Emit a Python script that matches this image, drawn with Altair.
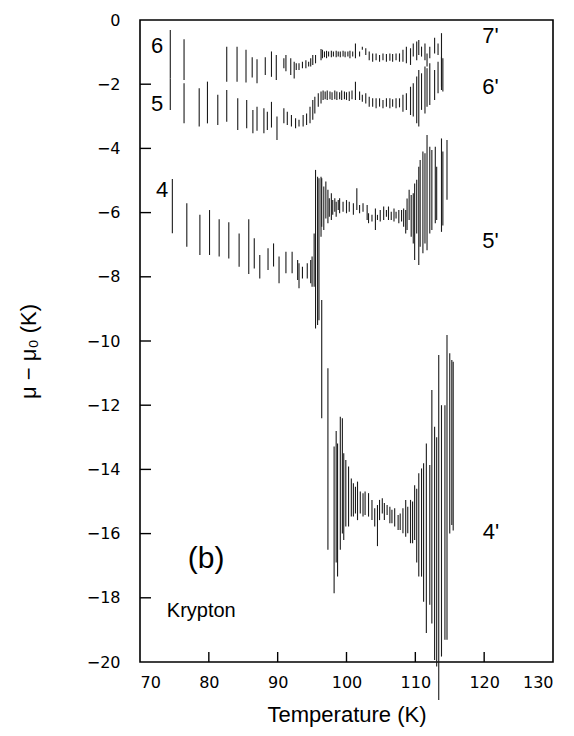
import altair as alt
import pandas as pd

# Temperature (K), lower and upper limit of mu - mu0 (K) for each isotherm segment
s6_T = [74.4, 76.4, 82.6, 84.1, 85.4, 86.3, 87.0, 88.2, 89.1, 89.8, 90.9, 91.2, 91.9, 92.4, 92.7,
        93.1, 93.6, 94.1, 94.5, 94.8, 95.1, 95.5, 96.3, 96.5, 96.8, 97.1, 97.4, 97.8, 98.1, 98.5,
        98.8, 99.1, 99.5, 99.8, 100.2, 100.5, 100.9, 101.3, 101.9, 102.3, 102.8, 103.3, 103.8,
        104.3, 104.8, 105.3, 105.8, 106.3, 106.7, 107.2, 107.7, 108.2, 108.7, 109.3, 109.7,
        110.2, 110.5, 110.9, 111.4, 111.7, 112.1, 112.8, 113.3, 113.8]
s6_lo = [-1.82, -1.87, -1.92, -1.92, -1.95, -1.79, -1.97, -1.71, -1.77, -1.87, -1.50, -1.60, -1.71,
         -1.82, -1.56, -1.56, -1.50, -1.50, -1.45, -1.45, -1.40, -1.35, -1.25, -1.19, -1.16, -1.19,
         -1.14, -1.16, -1.14, -1.16, -1.14, -1.16, -1.14, -1.16, -1.14, -1.19, -1.14, -1.19, -1.14,
         -0.93, -1.09, -1.25, -1.30, -1.25, -1.30, -1.25, -1.30, -1.27, -1.30, -1.25, -1.30, -1.30,
         -1.35, -1.40, -1.14, -1.25, -1.09, -1.14, -1.25, -1.45, -1.19, -1.04, -1.09, -2.08]
s6_hi = [-0.31, -0.60, -0.83, -0.83, -0.93, -1.16, -1.22, -1.16, -0.98, -1.09, -1.19, -1.09, -1.19,
         -1.30, -1.35, -1.35, -1.30, -1.25, -1.30, -1.19, -1.09, -1.09, -0.90, -0.93, -0.98, -0.96,
         -0.98, -0.96, -0.98, -0.96, -0.98, -0.98, -0.96, -0.98, -0.98, -0.96, -0.98, -0.73, -0.98,
         -0.83, -0.88, -0.98, -1.04, -1.04, -1.09, -1.04, -1.06, -1.04, -1.06, -1.04, -1.04, -0.93,
         -0.83, -0.88, -0.73, -0.67, -0.62, -0.83, -0.73, -1.04, -0.83, -0.55, -0.73, -0.41]

s5_T = [74.4, 76.4, 78.6, 79.8, 81.3, 82.6, 84.2, 85.5, 86.4, 87.0, 88.0, 88.5, 89.1, 89.9, 90.9,
        91.4, 92.0, 92.6, 93.1, 93.7, 94.2, 94.7, 95.1, 95.4, 95.9, 96.3, 96.6, 96.9, 97.2, 97.6,
        97.9, 98.3, 98.6, 99.0, 99.3, 99.7, 100.0, 100.4, 100.8, 101.3, 101.9, 102.3, 102.8, 103.3,
        103.8, 104.3, 104.8, 105.3, 105.8, 106.3, 106.7, 107.2, 107.7, 108.2, 108.7, 109.3, 109.7,
        110.2, 110.5, 110.9, 111.4, 111.7, 112.1, 112.8, 113.3, 113.8, 114.0]
s5_lo = [-2.80, -3.22, -3.32, -3.22, -3.27, -3.17, -3.43, -3.37, -3.53, -3.45, -3.53, -3.43, -3.35,
         -3.74, -3.22, -3.27, -3.32, -3.37, -3.32, -3.32, -3.27, -3.22, -3.11, -2.91, -2.70, -2.60,
         -2.49, -2.47, -2.49, -2.47, -2.49, -2.47, -2.49, -2.47, -2.49, -2.47, -2.49, -2.52, -2.47,
         -2.49, -2.49, -2.55, -2.60, -2.70, -2.70, -2.75, -2.70, -2.75, -2.70, -2.75, -2.70, -2.75,
         -2.72, -2.86, -2.80, -2.96, -3.01, -3.22, -3.32, -2.80, -2.91, -2.70, -2.65, -2.49, -2.28,
         -2.18, -2.23]
s5_hi = [-1.82, -1.97, -2.13, -1.92, -2.33, -2.18, -2.44, -2.49, -2.80, -2.70, -2.75, -2.86, -2.55,
         -3.01, -2.75, -2.86, -2.96, -3.06, -3.11, -2.96, -2.91, -2.70, -2.49, -2.39, -2.28, -2.23,
         -2.20, -2.23, -2.20, -2.23, -2.25, -2.20, -2.23, -2.25, -2.20, -2.23, -2.25, -2.23, -2.20,
         -1.92, -2.23, -2.33, -2.28, -2.39, -2.44, -2.44, -2.44, -2.49, -2.44, -2.44, -2.47, -2.44,
         -2.44, -2.33, -2.28, -2.08, -1.97, -1.76, -1.56, -1.66, -1.45, -1.50, -1.35, -1.56, -1.30,
         -1.14, -1.19]

s4_T = [74.7, 76.8, 78.7, 80.1, 81.5, 82.9, 84.4, 85.8, 86.6, 87.4, 88.6, 89.4, 90.2, 91.2, 92.1,
        92.9, 93.1, 93.6, 94.3, 94.8, 95.0, 95.3, 95.5, 95.8, 96.0, 96.3, 96.4, 96.7, 97.0, 97.3,
        97.5, 97.8, 98.0, 98.3, 98.5, 98.8, 99.0, 99.5, 100.0, 100.4, 101.0, 101.5, 101.9, 102.4,
        103.0, 103.2, 103.7, 104.2, 104.5, 104.9, 105.4, 105.8, 106.1, 106.5, 106.9, 107.2, 107.6,
        108.0, 108.3, 108.6, 108.8, 109.1, 109.4, 109.7, 109.9, 110.2, 110.5, 110.7, 111.1, 111.4,
        111.7, 112.1, 112.4, 112.9, 113.1, 113.8, 114.0, 114.6]
s4_lo = [-6.64, -7.06, -7.32, -7.32, -7.37, -7.43, -7.69, -7.91, -7.74, -8.05, -7.79, -7.68, -8.20,
         -7.89, -7.89, -8.10, -8.36, -8.05, -8.05, -8.20, -8.31, -8.31, -9.61, -9.50, -9.35, -6.75,
         -6.44, -6.54, -6.18, -6.33, -6.13, -6.23, -6.07, -5.97, -6.13, -5.92, -6.02, -5.97, -6.02,
         -5.97, -6.07, -5.92, -6.02, -5.97, -6.23, -6.33, -6.28, -6.54, -6.23, -6.28, -6.23, -6.13,
         -6.23, -6.23, -6.28, -6.18, -6.33, -6.28, -6.44, -6.65, -6.54, -6.23, -6.75, -6.96, -7.48,
         -6.65, -7.63, -7.06, -7.27, -6.96, -7.17, -6.65, -6.54, -6.33, -6.23, -6.60, -6.40, -5.60]
s4_hi = [-4.95, -5.71, -6.07, -5.92, -6.21, -6.30, -6.65, -6.21, -6.80, -7.32, -7.11, -6.96, -7.37,
         -7.22, -7.22, -7.48, -7.58, -7.69, -7.58, -7.48, -7.37, -6.65, -4.67, -4.88, -4.93, -4.88,
         -4.93, -5.19, -5.03, -5.29, -5.55, -5.40, -5.61, -5.55, -5.66, -5.61, -5.55, -5.66, -5.61,
         -5.66, -5.71, -5.24, -5.76, -5.71, -5.76, -6.02, -6.07, -5.87, -6.07, -5.92, -5.81, -5.92,
         -5.81, -5.97, -5.87, -5.97, -5.92, -5.92, -5.87, -5.92, -5.56, -5.29, -5.45, -5.40, -5.09,
         -4.98, -4.57, -4.36, -4.10, -4.15, -3.58, -3.95, -4.05, -3.95, -4.57, -3.69, -4.10, -3.74]

s4p_T = [96.4, 97.3, 98.2, 98.5, 98.7, 99.1, 99.4, 99.6, 99.9, 100.3, 100.7, 101.0, 101.3, 101.6,
         102.0, 102.4, 102.7, 103.2, 103.7, 104.1, 104.5, 104.8, 105.2, 105.5, 105.9, 106.3, 106.6,
         107.0, 107.5, 107.8, 108.2, 108.6, 108.9, 109.3, 109.6, 109.9, 110.2, 110.5, 110.9, 111.2,
         111.6, 112.1, 112.4, 112.8, 113.1, 113.4, 113.8, 114.3, 114.6, 115.0, 115.3, 115.5]
s4p_lo = [-12.41, -16.50, -17.86, -16.90, -17.34, -16.50, -16.00, -16.20, -15.78, -15.78, -15.47,
          -15.47, -15.37, -15.58, -15.37, -15.47, -15.42, -15.47, -15.58, -15.78, -16.39, -15.58,
          -15.37, -15.58, -15.42, -15.68, -15.68, -15.78, -15.89, -15.89, -15.99, -16.10, -15.99,
          -16.30, -16.30, -16.20, -16.90, -17.34, -17.34, -18.12, -19.10, -18.22, -18.80, -19.94,
          -20.14, -21.18, -19.83, -19.31, -19.31, -16.00, -15.73, -15.90]
s4p_hi = [-8.72, -10.85, -13.29, -12.80, -13.19, -12.36, -12.41, -13.50, -13.71, -13.91, -14.28,
          -14.43, -14.54, -14.38, -14.69, -14.74, -14.69, -14.74, -14.95, -15.21, -15.11, -14.95,
          -14.90, -15.05, -15.11, -15.16, -15.26, -15.21, -15.42, -15.37, -15.21, -14.95, -15.16,
          -14.95, -15.00, -14.49, -14.60, -14.12, -13.97, -13.81, -13.19, -13.86, -11.53, -12.67,
          -13.00, -10.44, -12.00, -12.00, -9.81, -10.38, -10.59, -10.65]

# Curve labels and panel annotations
label_text = ["6", "5", "4", "7'", "6'", "5'", "4'", "(b)", "Krypton"]
label_T = [72.5, 72.5, 73.2, 120.9, 120.9, 120.9, 121.0, 79.6, 78.9]
label_mu = [-0.80, -2.62, -5.30, -0.50, -2.08, -6.88, -15.95, -16.80, -18.40]
label_size = [22, 22, 22, 22, 22, 22, 22, 30, 20]

x_ticks = [70, 80, 90, 100, 110, 120, 130]
y_ticks = [0, -2, -4, -6, -8, -10, -12, -14, -16, -18, -20]
x_inner_ticks = [80, 90, 100, 110, 120]
y_inner_ticks = [-2, -4, -6, -8, -10, -12, -14, -16, -18]

frames = []
for name, T, lo, hi in [("6", s6_T, s6_lo, s6_hi), ("5", s5_T, s5_lo, s5_hi),
                        ("4", s4_T, s4_lo, s4_hi), ("4'", s4p_T, s4p_lo, s4p_hi)]:
    frames.append(pd.DataFrame({"curve": name, "T": T, "lo": lo, "hi": hi}))
bars = pd.concat(frames, ignore_index=True)

labels = pd.DataFrame({"text": label_text, "T": label_T, "mu": label_mu, "size": label_size})

W, H = 413, 642
xscale = alt.Scale(domain=[70, 130], nice=False, zero=False)
yscale = alt.Scale(domain=[-20, 0], nice=False, zero=False)
tick_font = "DejaVu Sans"
text_font = "Liberation Sans"

x_axis = alt.Axis(values=x_ticks, format="d", ticks=False, domain=False, grid=False,
                  labelFont=tick_font, labelFontSize=16, labelColor="black", labelPadding=12,
                  title="Temperature (K)", titleFont=text_font, titleFontSize=22,
                  titleFontWeight="normal", titleColor="black", titlePadding=14)
y_axis = alt.Axis(values=y_ticks, format="d", ticks=False, domain=False, grid=False,
                  labelFont=tick_font, labelFontSize=16, labelColor="black", labelPadding=20,
                  title="μ − μ₀ (K)", titleFont=text_font, titleFontSize=22,
                  titleFontWeight="normal", titleColor="black", titleX=-100, titleY=H / 2 + 10)

error_bars = alt.Chart(bars).mark_rule(color="#1b1b1b", strokeWidth=1.1).encode(
    x=alt.X("T:Q", scale=xscale, axis=x_axis),
    y=alt.Y("lo:Q", scale=yscale, axis=y_axis),
    y2="hi:Q",
)

ytick_marks = alt.Chart(pd.DataFrame({"v": y_inner_ticks})).mark_rule(
    color="black", strokeWidth=1.4).encode(
    y=alt.Y("v:Q", scale=yscale), x=alt.value(0), x2=alt.value(11))
xtick_marks = alt.Chart(pd.DataFrame({"v": x_inner_ticks})).mark_rule(
    color="black", strokeWidth=1.4).encode(
    x=alt.X("v:Q", scale=xscale), y=alt.value(H), y2=alt.value(H - 10))

text = alt.Chart(labels).mark_text(font=text_font, color="black", align="center",
                                   baseline="middle").encode(
    x=alt.X("T:Q", scale=xscale),
    y=alt.Y("mu:Q", scale=yscale),
    text="text:N",
    size=alt.Size("size:Q", scale=None, legend=None),
)

chart = alt.layer(error_bars, ytick_marks, xtick_marks, text).properties(
    width=W, height=H,
    autosize=alt.AutoSizeParams(type="none"),
    padding={"left": 140, "top": 20, "right": 21, "bottom": 74},
    background="white",
).configure_view(stroke="black", strokeWidth=1.6)

chart.save("out.html", embed_options={"renderer": "svg", "actions": False})
